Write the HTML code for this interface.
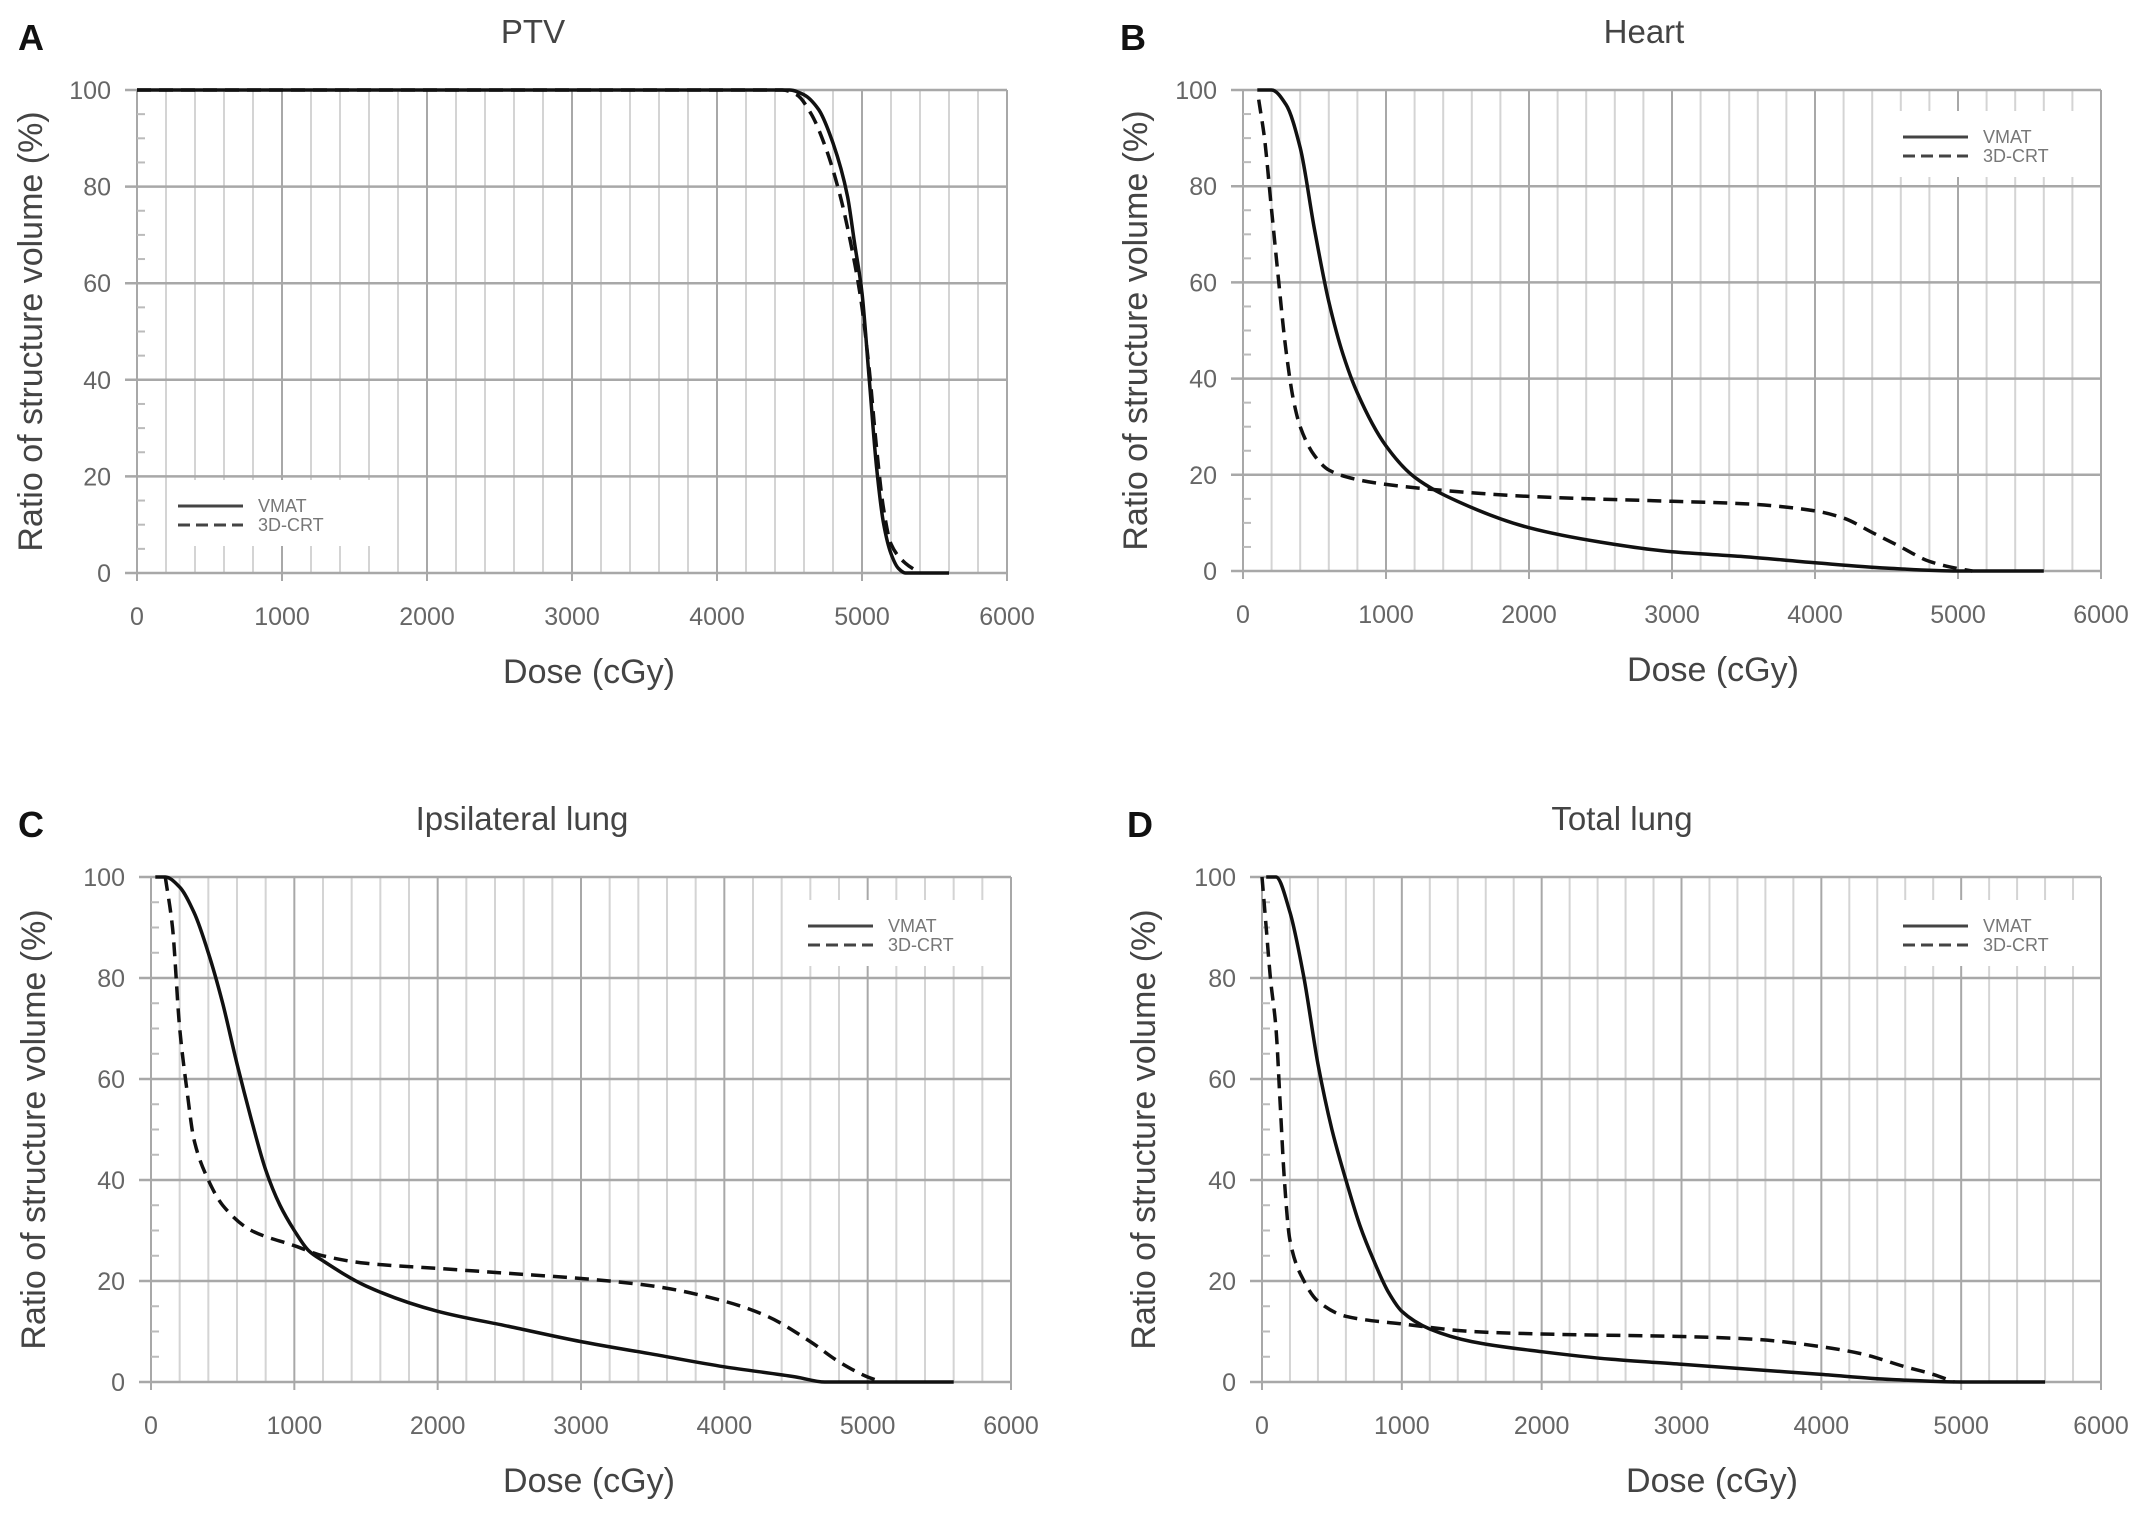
<!DOCTYPE html>
<html><head><meta charset="utf-8"><style>
html,body{margin:0;padding:0;background:#fff;}
svg{display:block;font-family:"Liberation Sans",sans-serif;}
</style></head><body>
<svg id="fig" width="2150" height="1513" viewBox="0 0 2150 1513"></svg>
<script>
const xTicks=[0,1000,2000,3000,4000,5000,6000];
const yTicks=[0,20,40,60,80,100];
const seriesNames=["VMAT","3D-CRT"];
const titles=["PTV","Heart","Ipsilateral lung","Total lung"];
const letters=["A","B","C","D"];
// PTV
const ptvVmatDose=[0,4500,4600,4700,4800,4900,4950,5000,5050,5100,5150,5200,5250,5300,5600];
const ptvVmatVol=[100,100,99,96,89,78,68,58,40,22,10,4,1,0,0];
const ptv3dDose=[0,4450,4550,4650,4750,4850,4950,5000,5050,5100,5150,5200,5300,5400];
const ptv3dVol=[100,100,99,95,88,78,64,55,42,26,13,6,2,0];
// Heart
const heartVmatDose=[100,200,300,400,500,600,700,800,1000,1200,1500,2000,2500,3000,3500,4000,4500,5000,5600];
const heartVmatVol=[100,100,97,88,71,56,45,37,26,19.5,14.5,9,6,4,3,1.7,0.6,0,0];
const heart3dDose=[110,150,200,250,300,350,400,500,600,800,1000,1500,2000,3000,3500,4000,4200,4400,4600,4800,5000,5100];
const heart3dVol=[98,90,75,60,46,36,30,24,21,19,18,16.5,15.5,14.5,14,12.5,11,8,5,2,0.5,0];
// Ipsilateral lung
const ipsiVmatDose=[30,100,200,300,400,500,600,700,800,900,1000,1100,1200,1500,2000,2500,3000,3500,4000,4500,4700,5600];
const ipsiVmatVol=[100,100,98,93,85,75,63,52,42,35,30,26,24,19,14,11,8,5.5,3,1,0,0];
const ipsi3dDose=[100,150,200,250,300,400,500,700,1000,1200,1500,2000,2500,3000,3500,4000,4300,4600,4800,5000,5100];
const ipsi3dVol=[100,90,70,58,48,40,35,30,27,25,23.5,22.5,21.5,20.5,19,16,13,8,4,1,0];
// Total lung
const totVmatDose=[30,100,200,300,400,500,600,700,800,900,1000,1200,1500,2000,2500,3000,3500,4000,4500,5000,5600];
const totVmatVol=[100,100,93,80,63,50,40,31,24,18,14,10.5,8,6,4.5,3.5,2.5,1.5,0.5,0,0];
const tot3dDose=[0,30,60,100,130,160,200,300,400,600,1000,1500,2000,3000,3500,4000,4300,4600,4800,4950];
const tot3dVol=[100,90,80,70,55,40,28,20,16,13,11.5,10,9.5,9,8.5,7,5.5,3,1.5,0];

const panels=[
 {x0:137,x1:1007,y100:90,y0:573,legX:178,legY:506,tx:533,xt:589,yx:42,lx:18,data:[[ptvVmatDose,ptvVmatVol],[ptv3dDose,ptv3dVol]]},
 {x0:1243,x1:2101,y100:90,y0:571,legX:1903,legY:137,tx:1644,xt:1713,yx:1147,lx:1120,data:[[heartVmatDose,heartVmatVol],[heart3dDose,heart3dVol]]},
 {x0:151,x1:1011,y100:877,y0:1382,legX:808,legY:926,tx:522,xt:589,yx:45,lx:18,data:[[ipsiVmatDose,ipsiVmatVol],[ipsi3dDose,ipsi3dVol]]},
 {x0:1262,x1:2101,y100:877,y0:1382,legX:1903,legY:926,tx:1622,xt:1712,yx:1155,lx:1127,data:[[totVmatDose,totVmatVol],[tot3dDose,tot3dVol]]}
];
const svg=document.getElementById('fig');
const NS="http://www.w3.org/2000/svg";
function mk(tag,attrs,parent){const e=document.createElementNS(NS,tag);for(const k in attrs)e.setAttribute(k,attrs[k]);(parent||svg).appendChild(e);return e;}
function monoPath(P){
 const n=P.length, d=[], m=[];
 for(let i=0;i<n-1;i++){const h=P[i+1][0]-P[i][0];d.push(h===0?0:(P[i+1][1]-P[i][1])/h);}
 m[0]=d[0]; m[n-1]=d[n-2];
 for(let i=1;i<n-1;i++){
  if(d[i-1]*d[i]<=0)m[i]=0;
  else{const h0=P[i][0]-P[i-1][0],h1=P[i+1][0]-P[i][0];const w1=2*h1+h0,w2=h1+2*h0;m[i]=(w1+w2)/(w1/d[i-1]+w2/d[i]);}
 }
 if(d[0]===0)m[0]=0; if(d[n-2]===0)m[n-1]=0;
 let s='M'+P[0][0].toFixed(1)+','+P[0][1].toFixed(1);
 for(let i=0;i<n-1;i++){
  const h=(P[i+1][0]-P[i][0])/3;
  s+=' C'+(P[i][0]+h).toFixed(1)+','+(P[i][1]+m[i]*h).toFixed(1)+' '+(P[i+1][0]-h).toFixed(1)+','+(P[i+1][1]-m[i+1]*h).toFixed(1)+' '+P[i+1][0].toFixed(1)+','+P[i+1][1].toFixed(1);
 }
 return s;
}
panels.forEach((p,i)=>{
 const g=mk('g',{});
 
 
 const sx=d=>p.x0+(p.x1-p.x0)*d/6000;
 const sy=v=>p.y0-(p.y0-p.y100)*v/100;
 for(let d=200;d<6000;d+=200){ if(d%1000===0)continue;
  const l=mk('line',{x1:sx(d),x2:sx(d),y1:p.y100,y2:p.y0,stroke:'#d4d4d4','stroke-width':2},g);
  
  
 }
 xTicks.forEach(d=>{
  const l=mk('line',{x1:sx(d),x2:sx(d),y1:p.y100,y2:p.y0+8,stroke:'#a8a8a8','stroke-width':2},g);
  
  
  const t=mk('text',{x:sx(d),y:p.y0+52,'font-size':25,fill:'#666','text-anchor':'middle'},g);
  t.textContent=d;
  
  
 });
 for(let v=5;v<100;v+=5){ if(v%20===0)continue;
  const l=mk('line',{x1:p.x0,x2:p.x0+8,y1:sy(v),y2:sy(v),stroke:'#bbb','stroke-width':2},g);
  
  
 }
 yTicks.forEach(v=>{
  const l=mk('line',{x1:p.x0-12,x2:p.x1,y1:sy(v),y2:sy(v),stroke:'#a8a8a8','stroke-width':2.5},g);
  
  
  const t=mk('text',{x:p.x0-26,y:sy(v)+9,'font-size':25,fill:'#666','text-anchor':'end'},g);
  t.textContent=v;
  
  
 });
 const lb=mk('rect',{x:p.legX-8,y:p.legY-26,width:205,height:66,fill:'#fff'},g);
 
 
 p.data.forEach((s,k)=>{
  const P=s[0].map((d,j)=>[sx(d),sy(s[1][j])]);
  const pl=mk('path',{d:monoPath(P),fill:'none',stroke:'#111','stroke-width':3.5,'stroke-linejoin':'round','stroke-linecap':'butt'},g);
  if(k===1)pl.setAttribute('stroke-dasharray','14 8');
  
  
  const ly=p.legY+k*19;
  const ll=mk('line',{x1:p.legX,x2:p.legX+65,y1:ly,y2:ly,stroke:'#444','stroke-width':3},g);
  if(k===1)ll.setAttribute('stroke-dasharray','12 6');
  
  
  const lt=mk('text',{x:p.legX+80,y:ly+6,'font-size':18,fill:'#777'},g);
  lt.textContent=seriesNames[k];
  
  
 });
 const tt=mk('text',{x:p.tx,y:p.y100-47,'font-size':33,fill:'#444','text-anchor':'middle'},g);
 tt.textContent=titles[i];
 
 
 const lt=mk('text',{x:p.lx,y:p.y100-40,'font-size':36,fill:'#111','font-weight':'bold'},g);
 lt.textContent=letters[i];
 
 
 const xt=mk('text',{x:p.xt,y:p.y0+110,'font-size':34,fill:'#444','text-anchor':'middle'},g);
 xt.textContent='Dose (cGy)';
 
 
 const yx=p.yx, yy=(p.y0+p.y100)/2;
 const yt=mk('text',{x:yx,y:yy,'font-size':34,fill:'#444','text-anchor':'middle',transform:'rotate(-90 '+yx+' '+yy+')'},g);
 yt.textContent='Ratio of structure volume (%)';
 
 
});
</script>
</body></html>
